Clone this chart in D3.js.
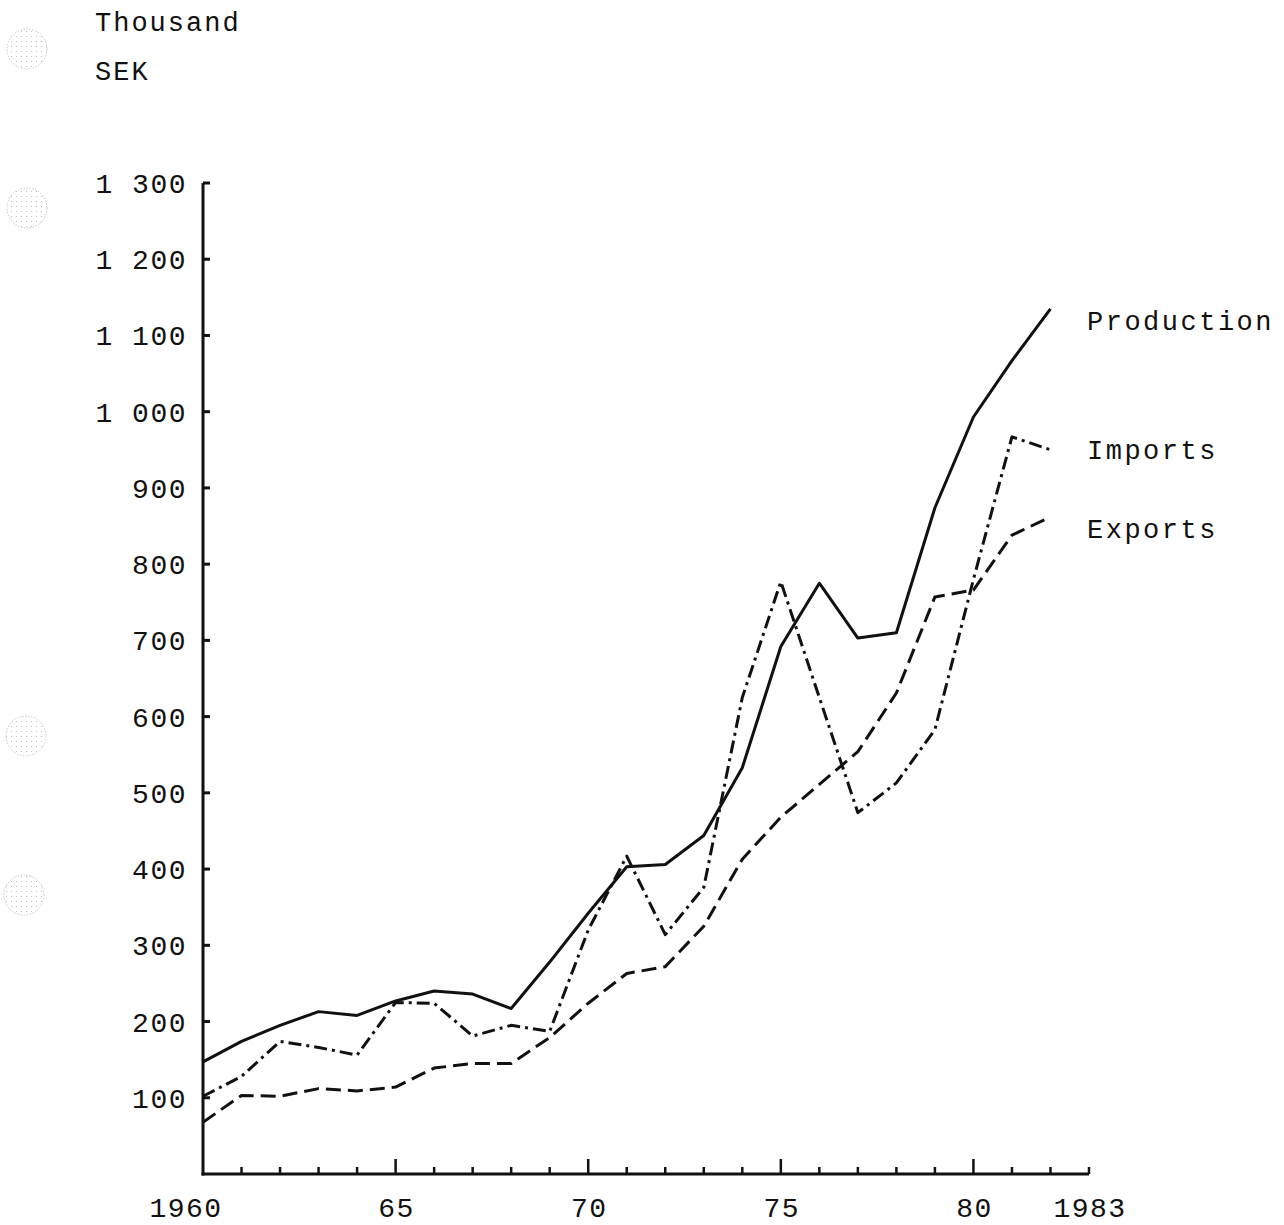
<!DOCTYPE html>
<html>
<head>
<meta charset="utf-8">
<script src="https://cdn.jsdelivr.net/npm/d3@7"></script>
<style>
  body { margin: 0; background: #fff; }
  svg text { font-family: "Liberation Mono", "DejaVu Sans Mono", monospace; fill: #111; }
</style>
</head>
<body>
<div id="chart"></div>
<script>
const years = d3.range(1960, 1983);

const production = [147, 174, 195, 213, 208, 227, 240, 236, 217, 278, 342, 403,
                    406, 444, 533, 692, 775, 703, 710, 874, 993, 1067, 1135];
const imports    = [102, 128, 174, 166, 156, 225, 224, 181, 195, 187, 320, 417,
                    314, 376, 625, 777, 625, 474, 513, 583, 780, 967, 950];
const exports    = [68, 103, 102, 112, 109, 114, 139, 145, 145, 179, 224, 263,
                    272, 325, 413, 468, 511, 554, 631, 757, 766, 838, 862];

const seriesNames = ["Production", "Imports", "Exports"];
const yTicks = d3.range(100, 1301, 100);
const xLabels = [[1960, "1960"], [1965, "65"], [1970, "70"], [1975, "75"], [1980, "80"], [1983, "1983"]];

const width = 1284, height = 1225;

const svg = d3.select("#chart").append("svg")
              .attr("width", width)
              .attr("height", height);

const x = d3.scaleLinear()
            .domain([1960, 1983])
            .range([203, 1089]);

const y = d3.scaleLinear()
            .domain([0, 1300])
            .range([1174, 183]);

// binder holes
const defs = svg.append("defs");
const pat = defs.append("pattern")
                .attr("id", "dots")
                .attr("width", 5)
                .attr("height", 5)
                .attr("patternUnits", "userSpaceOnUse");
pat.append("circle").attr("cx", 1.5).attr("cy", 1.5).attr("r", 0.6).attr("fill", "#b5b5b5");

[[27, 49], [27, 208], [26, 736], [24, 895]].forEach(c => {
    svg.append("circle")
       .attr("cx", c[0])
       .attr("cy", c[1])
       .attr("r", 20)
       .attr("fill", "url(#dots)")
       .attr("stroke", "#c8c8c8")
       .attr("stroke-width", 1)
       .attr("stroke-dasharray", "1.5,1.5");
});

// title
svg.append("text").attr("x", 95).attr("y", 31).attr("font-size", 27)
   .attr("letter-spacing", 2).text("Thousand");
svg.append("text").attr("x", 95).attr("y", 80).attr("font-size", 27)
   .attr("letter-spacing", 2).text("SEK");

// axes
const axisG = svg.append("g")
                 .attr("stroke", "#111")
                 .attr("stroke-width", 3)
                 .attr("fill", "none");

axisG.append("line")
     .attr("x1", x(1960)).attr("x2", x(1960))
     .attr("y1", y(1300)).attr("y2", y(0) + 1.5);

axisG.append("line")
     .attr("x1", x(1960) - 1.5).attr("x2", x(1983))
     .attr("y1", y(0)).attr("y2", y(0));

axisG.selectAll(".ytick")
     .data(yTicks)
     .enter().append("line")
     .attr("x1", x(1960)).attr("x2", x(1960) + 7)
     .attr("y1", d => y(d)).attr("y2", d => y(d));

axisG.selectAll(".xtick")
     .data(d3.range(1961, 1984))
     .enter().append("line")
     .attr("stroke-width", 2.5)
     .attr("x1", d => x(d)).attr("x2", d => x(d))
     .attr("y1", y(0))
     .attr("y2", d => y(0) - (d % 5 === 0 ? 15 : 7));

svg.selectAll(".ylabel")
   .data(yTicks)
   .enter().append("text")
   .attr("x", 187)
   .attr("y", d => y(d) + 10)
   .attr("text-anchor", "end")
   .attr("font-size", 28)
   .attr("letter-spacing", 1.5)
   .text(d => d >= 1000 ? "1 " + d3.format("03")(d - 1000) : d);

// the 1960 label sits a little left of its tick in the original
svg.selectAll(".xlabel")
   .data(xLabels)
   .enter().append("text")
   .attr("x", d => x(d[0]) + (d[0] === 1960 ? -17 : 1))
   .attr("y", 1217)
   .attr("text-anchor", "middle")
   .attr("font-size", 28)
   .attr("letter-spacing", 1.5)
   .text(d => d[1]);

// lines
const line = d3.line()
               .x((d, i) => x(years[i]))
               .y(d => y(d));

const styles = [
    { data: production, dash: null },
    { data: imports, dash: "13,5,3,5" },
    { data: exports, dash: "15,7" }
];

styles.forEach(s => {
    svg.append("path")
       .datum(s.data)
       .attr("d", line)
       .attr("fill", "none")
       .attr("stroke", "#111")
       .attr("stroke-width", 3)
       .attr("stroke-linejoin", "round")
       .attr("stroke-dasharray", s.dash);
});

// series labels
const labelY = [330, 459, 538];
seriesNames.forEach((n, i) => {
    svg.append("text")
       .attr("x", 1087)
       .attr("y", labelY[i])
       .attr("font-size", 27)
       .attr("letter-spacing", 2.5)
       .text(n);
});
</script>
</body>
</html>
